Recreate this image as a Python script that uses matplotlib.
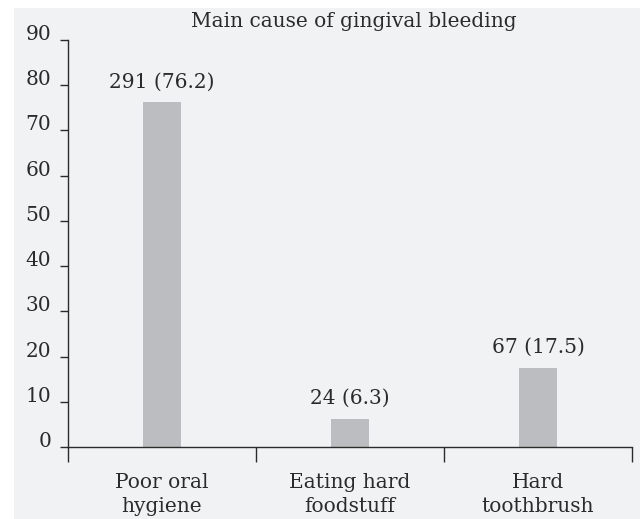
import numpy as np
import matplotlib.pyplot as plt
from matplotlib.patches import Rectangle

causes = ['Poor oral\nhygiene', 'Eating hard\nfoodstuff', 'Hard\ntoothbrush']
counts = [291, 24, 67]
percents = [76.2, 6.3, 17.5]
yticks = [0, 10, 20, 30, 40, 50, 60, 70, 80, 90]

plt.rcParams['font.family'] = ['DejaVu Serif']
plt.rcParams['font.size'] = 14.5
ink = '#2b2b2b'

fig = plt.figure(figsize=(6.4, 5.19), dpi=100)
fig.patch.set_facecolor('white')
# grey panel behind everything
fig.patches.append(Rectangle((14/640, 0), 1 - 14/640, 1 - 8/519,
                             transform=fig.transFigure, facecolor='#f1f2f4',
                             edgecolor='none', zorder=-10))

ax = fig.add_axes([68/640, 1 - 447/519, (632 - 68)/640, (447 - 40)/519])
ax.set_facecolor('none')

x = np.arange(len(causes)) + 0.5
ax.bar(x, percents, width=0.2, color='#bcbdc0', zorder=2)
for xi, n, p in zip(x, counts, percents):
    ax.annotate(f'{n} ({p})', (xi, p), xytext=(0, 8), textcoords='offset points',
                ha='center', va='bottom', color=ink)

ax.set_xlim(0, 3)
ax.set_ylim(0, 90)
ax.set_yticks(yticks)
for lab in ax.get_yticklabels():
    lab.set_va('baseline')
ax.tick_params(axis='y', direction='out', length=6, width=1, color=ink,
               labelcolor=ink, pad=6)

# boundary ticks between categories, names on minor ticks
ax.set_xticks([0, 1, 2, 3])
ax.set_xticklabels([])
ax.tick_params(axis='x', which='major', direction='out', length=10.5, width=1, color=ink)
ax.set_xticks(x, minor=True)
ax.set_xticklabels(causes, minor=True, linespacing=1.32)
ax.tick_params(axis='x', which='minor', length=0, pad=19, labelcolor=ink)

for s in ['top', 'right']:
    ax.spines[s].set_visible(False)
for s in ['left', 'bottom']:
    ax.spines[s].set_color(ink)
    ax.spines[s].set_linewidth(1)

fig.text(354/640, 1 - 27/519, 'Main cause of gingival bleeding', ha='center',
         va='baseline', color=ink)

fig.savefig('out.png', dpi=100)
